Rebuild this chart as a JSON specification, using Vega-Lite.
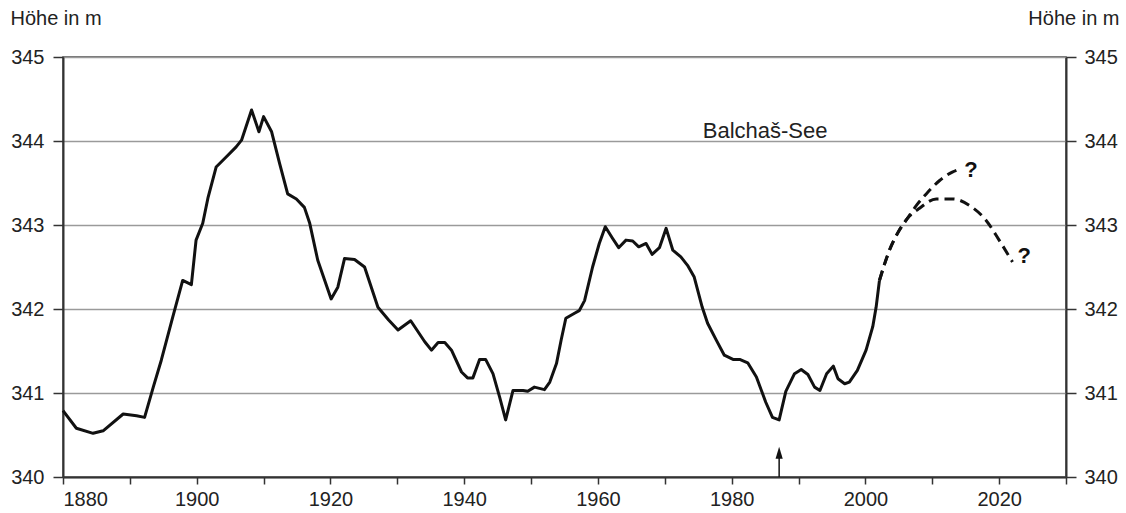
{
  "$schema": "https://vega.github.io/schema/vega-lite/v6.json",
  "width": 1003,
  "height": 420,
  "autosize": {"type": "none"},
  "padding": {"left": 63, "top": 57, "right": 60, "bottom": 36},
  "background": "white",
  "config": {
    "font": "Liberation Sans",
    "view": {"stroke": "#444", "strokeWidth": 1.5},
    "axis": {
      "labelFont": "Liberation Sans",
      "titleFont": "Liberation Sans",
      "labelColor": "#222",
      "titleColor": "#222",
      "domainColor": "#333",
      "domainWidth": 2,
      "tickColor": "#333",
      "tickWidth": 1.5,
      "gridColor": "#9a9a9a",
      "gridWidth": 1.5
    }
  },
  "datasets": {
    "pegel": [
      {"jahr": 1880, "h": 340.79}, {"jahr": 1882, "h": 340.58}, {"jahr": 1884.5, "h": 340.52},
      {"jahr": 1886, "h": 340.55}, {"jahr": 1889, "h": 340.75}, {"jahr": 1891, "h": 340.73},
      {"jahr": 1892.2, "h": 340.71}, {"jahr": 1893.5, "h": 341.07}, {"jahr": 1894.7, "h": 341.39},
      {"jahr": 1896.4, "h": 341.9}, {"jahr": 1897.9, "h": 342.34}, {"jahr": 1899.2, "h": 342.29},
      {"jahr": 1899.9, "h": 342.82}, {"jahr": 1900.9, "h": 343.02}, {"jahr": 1901.7, "h": 343.33},
      {"jahr": 1902.9, "h": 343.69}, {"jahr": 1904.4, "h": 343.81}, {"jahr": 1905.9, "h": 343.93},
      {"jahr": 1906.7, "h": 344.01}, {"jahr": 1908.2, "h": 344.37}, {"jahr": 1909.3, "h": 344.11},
      {"jahr": 1910.0, "h": 344.29}, {"jahr": 1911.2, "h": 344.11}, {"jahr": 1912.4, "h": 343.73},
      {"jahr": 1913.6, "h": 343.37}, {"jahr": 1914.9, "h": 343.31}, {"jahr": 1916.1, "h": 343.21},
      {"jahr": 1916.9, "h": 343.02}, {"jahr": 1918.1, "h": 342.58}, {"jahr": 1920.1, "h": 342.12},
      {"jahr": 1921.1, "h": 342.26}, {"jahr": 1922.1, "h": 342.6}, {"jahr": 1923.6, "h": 342.59},
      {"jahr": 1925.1, "h": 342.5}, {"jahr": 1927.1, "h": 342.02}, {"jahr": 1928.7, "h": 341.87},
      {"jahr": 1930.1, "h": 341.75}, {"jahr": 1932.0, "h": 341.86}, {"jahr": 1934.1, "h": 341.61},
      {"jahr": 1935.1, "h": 341.51}, {"jahr": 1936.1, "h": 341.6}, {"jahr": 1937.1, "h": 341.6},
      {"jahr": 1938.1, "h": 341.51}, {"jahr": 1939.6, "h": 341.25}, {"jahr": 1940.5, "h": 341.18},
      {"jahr": 1941.3, "h": 341.18}, {"jahr": 1942.3, "h": 341.4}, {"jahr": 1943.2, "h": 341.4},
      {"jahr": 1944.3, "h": 341.23}, {"jahr": 1945.3, "h": 340.95}, {"jahr": 1946.2, "h": 340.68},
      {"jahr": 1947.3, "h": 341.03}, {"jahr": 1948.8, "h": 341.03}, {"jahr": 1949.5, "h": 341.02},
      {"jahr": 1950.5, "h": 341.07}, {"jahr": 1952.0, "h": 341.04}, {"jahr": 1952.8, "h": 341.13},
      {"jahr": 1953.8, "h": 341.35}, {"jahr": 1954.5, "h": 341.63}, {"jahr": 1955.2, "h": 341.89},
      {"jahr": 1956.5, "h": 341.95}, {"jahr": 1957.2, "h": 341.98}, {"jahr": 1958.0, "h": 342.1},
      {"jahr": 1959.2, "h": 342.5}, {"jahr": 1960.2, "h": 342.78}, {"jahr": 1961.1, "h": 342.98},
      {"jahr": 1962.2, "h": 342.84}, {"jahr": 1963.1, "h": 342.73}, {"jahr": 1964.2, "h": 342.82},
      {"jahr": 1965.2, "h": 342.81}, {"jahr": 1966.1, "h": 342.74}, {"jahr": 1967.2, "h": 342.78},
      {"jahr": 1968.1, "h": 342.65}, {"jahr": 1969.2, "h": 342.73}, {"jahr": 1970.2, "h": 342.96},
      {"jahr": 1971.2, "h": 342.7}, {"jahr": 1972.4, "h": 342.62}, {"jahr": 1973.4, "h": 342.52},
      {"jahr": 1974.4, "h": 342.38}, {"jahr": 1975.6, "h": 342.02}, {"jahr": 1976.4, "h": 341.83},
      {"jahr": 1977.7, "h": 341.63}, {"jahr": 1978.9, "h": 341.45}, {"jahr": 1980.2, "h": 341.4},
      {"jahr": 1981.2, "h": 341.4}, {"jahr": 1982.4, "h": 341.36}, {"jahr": 1983.7, "h": 341.19},
      {"jahr": 1985.1, "h": 340.89}, {"jahr": 1986.1, "h": 340.71}, {"jahr": 1987.1, "h": 340.68},
      {"jahr": 1988.1, "h": 341.02}, {"jahr": 1989.4, "h": 341.23}, {"jahr": 1990.4, "h": 341.28},
      {"jahr": 1991.4, "h": 341.22}, {"jahr": 1992.4, "h": 341.07}, {"jahr": 1993.2, "h": 341.03},
      {"jahr": 1994.2, "h": 341.23}, {"jahr": 1995.2, "h": 341.32}, {"jahr": 1995.9, "h": 341.17},
      {"jahr": 1996.9, "h": 341.11}, {"jahr": 1997.6, "h": 341.13}, {"jahr": 1998.8, "h": 341.27},
      {"jahr": 2000.1, "h": 341.51}, {"jahr": 2001.1, "h": 341.79}, {"jahr": 2001.6, "h": 342.02},
      {"jahr": 2002.1, "h": 342.34}
    ],
    "prognose": [
      {"zweig": "hoch", "jahr": 2002.1, "h": 342.34}, {"zweig": "hoch", "jahr": 2003.6, "h": 342.7},
      {"zweig": "hoch", "jahr": 2004.8, "h": 342.9}, {"zweig": "hoch", "jahr": 2006.3, "h": 343.08},
      {"zweig": "hoch", "jahr": 2007.6, "h": 343.23}, {"zweig": "hoch", "jahr": 2009.1, "h": 343.37},
      {"zweig": "hoch", "jahr": 2011.1, "h": 343.53}, {"zweig": "hoch", "jahr": 2013.0, "h": 343.63},
      {"zweig": "hoch", "jahr": 2014.3, "h": 343.67},
      {"zweig": "tief", "jahr": 2002.1, "h": 342.34}, {"zweig": "tief", "jahr": 2003.6, "h": 342.7},
      {"zweig": "tief", "jahr": 2004.8, "h": 342.9}, {"zweig": "tief", "jahr": 2006.3, "h": 343.08},
      {"zweig": "tief", "jahr": 2008.1, "h": 343.2}, {"zweig": "tief", "jahr": 2010.6, "h": 343.31},
      {"zweig": "tief", "jahr": 2013.1, "h": 343.31}, {"zweig": "tief", "jahr": 2015.6, "h": 343.23},
      {"zweig": "tief", "jahr": 2018.0, "h": 343.06}, {"zweig": "tief", "jahr": 2020.0, "h": 342.82},
      {"zweig": "tief", "jahr": 2022.0, "h": 342.56}
    ],
    "pfeil": [{"jahr": 1987.1, "h0": 340, "h1": 340.29}],
    "fragen": [
      {"jahr": 2015.8, "h": 343.65, "t": "?"},
      {"jahr": 2023.75, "h": 342.63, "t": "?"}
    ],
    "name": [{"jahr": 1985, "h": 344.12, "t": "Balchaš-See"}]
  },
  "encoding": {
    "x": {
      "field": "jahr",
      "type": "quantitative",
      "scale": {"domain": [1880, 2030], "nice": false, "zero": false},
      "axis": {
        "title": null,
        "grid": false,
        "values": [1880, 1890, 1900, 1910, 1920, 1930, 1940, 1950, 1960, 1970, 1980, 1990, 2000, 2010, 2020, 2030],
        "format": "d",
        "labelExpr": "datum.value % 20 === 0 ? datum.label : ''",
        "tickSize": 7,
        "labelPadding": 5,
        "labelFontSize": 20
      }
    }
  },
  "layer": [
    {
      "encoding": {
        "y": {
          "field": "h",
          "type": "quantitative",
          "scale": {"domain": [340, 345], "nice": false, "zero": false},
          "axis": {
            "orient": "left",
            "values": [340, 340.5, 341, 341.5, 342, 342.5, 343, 343.5, 344, 344.5, 345],
            "format": "d",
            "labelExpr": "datum.value % 1 === 0 ? datum.label : ''",
            "gridOpacity": {"condition": {"test": "datum.value % 1 !== 0", "value": 0}, "value": 1},
            "tickSize": 10,
            "labelPadding": 9,
            "labelFontSize": 20,
            "title": "Höhe in m",
            "titleAngle": 0,
            "titleAlign": "left",
            "titleBaseline": "alphabetic",
            "titleX": -53,
            "titleY": -33,
            "titleFontSize": 20,
            "titleFontWeight": "normal"
          }
        }
      },
      "layer": [
        {
          "data": {"name": "pegel"},
          "mark": {"type": "line", "color": "#111", "strokeWidth": 3, "strokeJoin": "round"}
        },
        {
          "data": {"name": "prognose"},
          "mark": {"type": "line", "color": "#111", "strokeWidth": 3, "strokeDash": [10, 6], "interpolate": "monotone"},
          "encoding": {"detail": {"field": "zweig"}}
        },
        {
          "data": {"name": "pfeil"},
          "mark": {"type": "rule", "color": "#111", "strokeWidth": 1.5},
          "encoding": {"y": {"field": "h0", "type": "quantitative"}, "y2": {"field": "h1"}}
        },
        {
          "data": {"name": "pfeil"},
          "mark": {"type": "point", "shape": "M0,-1L0.6,1L-0.6,1Z", "filled": true, "color": "#111", "opacity": 1, "size": 144},
          "encoding": {"y": {"field": "h1", "type": "quantitative"}}
        },
        {
          "data": {"name": "fragen"},
          "mark": {"type": "text", "fontSize": 22, "fontWeight": "bold", "color": "#111", "align": "center", "baseline": "middle"},
          "encoding": {"text": {"field": "t"}}
        },
        {
          "data": {"name": "name"},
          "mark": {"type": "text", "fontSize": 22, "color": "#222", "align": "center", "baseline": "middle"},
          "encoding": {"text": {"field": "t"}}
        }
      ]
    },
    {
      "data": {"name": "pegel"},
      "mark": {"type": "line", "strokeOpacity": 0},
      "encoding": {
        "y": {
          "field": "h",
          "type": "quantitative",
          "scale": {"domain": [340, 345], "nice": false, "zero": false},
          "axis": {
            "orient": "right",
            "values": [340, 340.5, 341, 341.5, 342, 342.5, 343, 343.5, 344, 344.5, 345],
            "format": "d",
            "labelExpr": "datum.value % 1 === 0 ? datum.label : ''",
            "grid": false,
            "tickSize": 10,
            "labelPadding": 8,
            "labelFontSize": 20,
            "title": "Höhe in m",
            "titleAngle": 0,
            "titleAlign": "right",
            "titleBaseline": "alphabetic",
            "titleX": 53,
            "titleY": -33,
            "titleFontSize": 20,
            "titleFontWeight": "normal"
          }
        }
      }
    }
  ],
  "resolve": {"scale": {"y": "independent"}}
}
